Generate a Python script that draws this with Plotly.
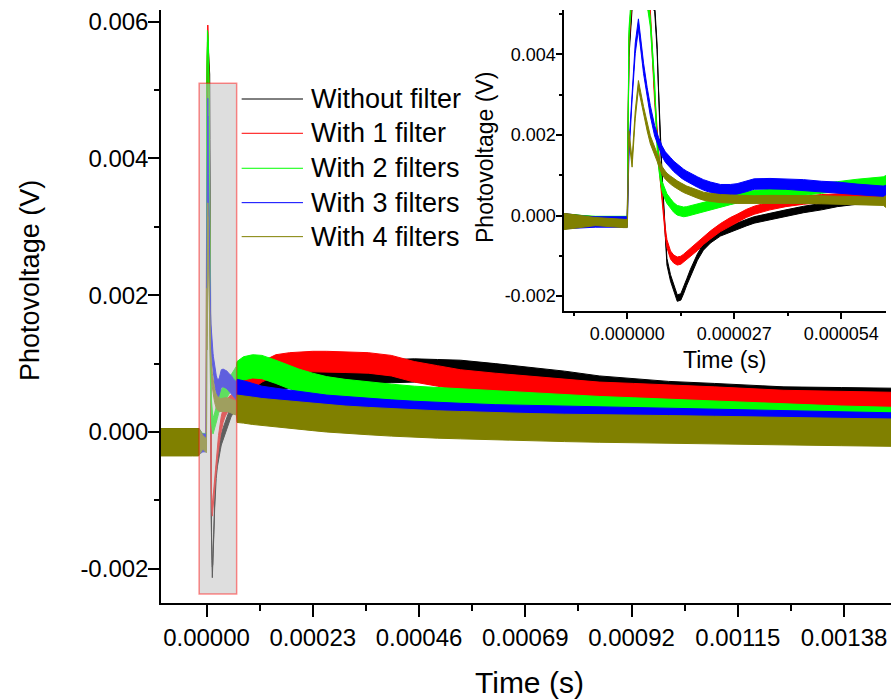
import numpy as np
import plotly.graph_objects as go

# ---------------------------------------------------------------------------
# Transient photovoltage traces (time in microseconds, voltage in millivolts)
# ---------------------------------------------------------------------------
time_us = [
    -101, -60, -30, -17, -16, -8, -1,
    0, 0.4, 1.2, 2.0, 2.8, 4.1, 5.0, 5.8, 6.9, 7.5,
    7.9, 8.3, 8.75, 9.6, 10.0,
    10.9, 11.7, 12.6, 13.5, 14.2,
    15.0, 15.9, 17.7, 19.2, 21,
    23.5, 26, 27.7, 30, 32,
    36, 40, 44.5, 49, 53,
    58, 64.6, 66,
    80, 100, 120, 150, 180,
    200, 230, 260, 300, 350,
    400, 450, 500, 550, 625,
    700, 775, 850, 925, 1000,
    1100, 1250, 1375, 1490,
]

without_filter_mv = [
    -0.12, -0.12, -0.12, -0.12, -0.12, -0.12, -0.12,
    -0.12, 4.0, 5.2, 5.5, 5.6, 5.5, 5.4, 5.3, 5.15, 4.2,
    3.0, 2.0, 1.0, -0.5, -1.15,
    -1.55, -1.8, -2.05, -2.02, -1.86,
    -1.65, -1.42, -1.03, -0.78, -0.6,
    -0.43, -0.33, -0.27, -0.18, -0.11,
    -0.02, 0.06, 0.15, 0.22, 0.30,
    0.36, 0.40, 0.42,
    0.55, 0.66, 0.73, 0.78, 0.81,
    0.83, 0.85, 0.86, 0.87, 0.88,
    0.89, 0.90, 0.89, 0.88, 0.83,
    0.78, 0.72, 0.65, 0.61, 0.57,
    0.54, 0.49, 0.48, 0.47,
]

one_filter_mv = [
    -0.13, -0.13, -0.13, -0.13, -0.13, -0.13, -0.13,
    -0.13, 4.3, 5.5, 5.8, 5.85, 5.6, 5.3, 5.0, 2.9, 2.1,
    1.4, 0.9, 0.4, -0.42, -0.7,
    -0.98, -1.08, -1.13, -1.11, -1.06,
    -0.99, -0.92, -0.77, -0.62, -0.48,
    -0.30, -0.15, -0.07, 0.05, 0.13,
    0.24, 0.32, 0.38, 0.42, 0.44,
    0.46, 0.47, 0.50,
    0.65, 0.78, 0.88, 0.98, 1.01,
    1.02, 1.03, 1.03, 1.02, 1.01,
    0.97, 0.88, 0.82, 0.76, 0.71,
    0.67, 0.62, 0.58, 0.56, 0.54,
    0.51, 0.46, 0.44, 0.43,
]

two_filters_mv = [
    -0.14, -0.14, -0.14, -0.14, -0.14, -0.14, -0.14,
    -0.14, 4.5, 5.6, 5.75, 5.72, 5.6, 5.35, 4.8, 3.2, 1.8,
    1.3, 1.0, 0.73, 0.5, 0.42,
    0.30, 0.20, 0.13, 0.10, 0.09,
    0.10, 0.12, 0.16, 0.20, 0.25,
    0.32, 0.39, 0.43, 0.47, 0.50,
    0.53, 0.57, 0.62, 0.67, 0.72,
    0.78, 0.84, 0.86,
    0.93, 0.96, 0.95, 0.88, 0.80,
    0.75, 0.69, 0.64, 0.60, 0.56,
    0.53, 0.50, 0.48, 0.46, 0.43,
    0.40, 0.37, 0.35, 0.33, 0.31,
    0.28, 0.24, 0.21, 0.19,
]

three_filters_mv = [
    -0.16, -0.16, -0.16, -0.16, -0.16, -0.16, -0.16,
    -0.16, 1.6, 3.0, 4.15, 4.75, 3.65, 3.05, 2.6, 2.1, 1.9,
    1.8, 1.72, 1.6, 1.45, 1.4,
    1.31, 1.22, 1.14, 1.07, 1.02,
    0.97, 0.92, 0.83, 0.76, 0.70,
    0.64, 0.64, 0.66, 0.72, 0.78,
    0.79, 0.78, 0.76, 0.72, 0.70,
    0.65, 0.60, 0.60,
    0.58, 0.54, 0.50, 0.47, 0.44,
    0.42, 0.39, 0.37, 0.35, 0.32,
    0.30, 0.28, 0.26, 0.25, 0.23,
    0.22, 0.21, 0.20, 0.19, 0.18,
    0.16, 0.14, 0.12, 0.11,
]

four_filters_mv = [
    -0.15, -0.15, -0.15, -0.15, -0.15, -0.15, -0.20,
    -0.20, 2.0, 1.3, 2.5, 3.25, 2.6, 2.2, 1.88, 1.6, 1.45,
    1.33, 1.22, 1.12, 1.0, 0.95,
    0.88, 0.82, 0.76, 0.71, 0.67,
    0.63, 0.60, 0.53, 0.48, 0.45,
    0.42, 0.41, 0.40, 0.39, 0.39,
    0.40, 0.40, 0.40, 0.39, 0.38,
    0.36, 0.35, 0.34,
    0.33, 0.31, 0.29, 0.27, 0.25,
    0.24, 0.22, 0.20, 0.18, 0.16,
    0.14, 0.12, 0.11, 0.10, 0.08,
    0.07, 0.06, 0.05, 0.04, 0.04,
    0.03, 0.01, 0.00, -0.01,
]

series_names = ["Without filter", "With 1 filter", "With 2 filters",
                "With 3 filters", "With 4 filters"]
series_values = [without_filter_mv, one_filter_mv, two_filters_mv,
                 three_filters_mv, four_filters_mv]
series_colors = ["#000000", "#FF0000", "#00FF00", "#0000FF", "#808000"]

# Half-width of the noise band (mV): inside the close-up window / full record
noise_close_mv = [0.08, 0.10, 0.12, 0.13, 0.10]
noise_full_mv = [0.17, 0.15, 0.17, 0.17, 0.20]

# Axis ranges
main_x_range = [-9.85e-5, 1.4817e-3]
main_y_range = [-0.0025, 0.00617]
inset_x_range = [-15.97e-6, 65.28e-6]
inset_y_range = [-0.00237, 0.00510]

# Tick values and labels
main_x_ticks = [0, 0.00023, 0.00046, 0.00069, 0.00092, 0.00115, 0.00138]
main_x_labels = ["0.00000", "0.00023", "0.00046", "0.00069", "0.00092",
                 "0.00115", "0.00138"]
main_x_minor = [0.000115, 0.000345, 0.000575, 0.000805, 0.001035,
                0.001265]
main_y_ticks = [-0.002, 0.0, 0.002, 0.004, 0.006]
main_y_labels = ["-0.002", "0.000", "0.002", "0.004", "0.006"]
main_y_minor = [-0.001, 0.001, 0.003, 0.005]
inset_x_ticks = [0, 27e-6, 54e-6]
inset_x_labels = ["0.000000", "0.000027", "0.000054"]
inset_x_minor = [-13.5e-6, 13.5e-6, 40.5e-6]
inset_y_ticks = [-0.002, 0.0, 0.002, 0.004]
inset_y_labels = ["-0.002", "0.000", "0.002", "0.004"]
inset_y_minor = [-0.001, 0.001, 0.003, 0.005]

FONT = "Arial, Liberation Sans, sans-serif"

t = np.array(time_us) * 1e-6
in_window = (t >= inset_x_range[0]) & (t <= inset_x_range[1])

fig = go.Figure()

# Each trace is drawn as its noise envelope: a filled band around the signal
for axes in (("x", "y"), ("x2", "y2")):
    for vals, color, nc, nf in zip(series_values, series_colors,
                                   noise_close_mv, noise_full_mv):
        mid = np.array(vals) * 1e-3
        half = np.where(in_window, nc, nf) * 1e-3
        upper = mid + half
        lower = mid - half
        fig.add_trace(go.Scatter(
            x=np.concatenate([t, t[::-1]]),
            y=np.concatenate([upper, lower[::-1]]),
            mode="lines", fill="toself", fillcolor=color,
            line=dict(color=color, width=1),
            xaxis=axes[0], yaxis=axes[1],
            showlegend=False, hoverinfo="skip",
        ))


def axis_style(tickvals, ticktext, minorvals, size, ticklen, standoff=0):
    return dict(
        tickmode="array", tickvals=tickvals, ticktext=ticktext,
        ticks="outside", ticklen=ticklen, tickwidth=1.5, tickcolor="black",
        ticklabelstandoff=standoff,
        minor=dict(tickmode="array", tickvals=minorvals, ticks="outside",
                   ticklen=ticklen // 2, tickwidth=1.5, tickcolor="black"),
        showline=True, linecolor="black", linewidth=1.5, mirror=False,
        showgrid=False, zeroline=False,
        tickfont=dict(family=FONT, size=size, color="black"),
    )


xa = axis_style(main_x_ticks, main_x_labels, main_x_minor, 24, 12)
xa.update(range=main_x_range, domain=[0, 1], anchor="y")
ya = axis_style(main_y_ticks, main_y_labels, main_y_minor, 24, 11, -5)
ya.update(range=main_y_range, domain=[0, 1], anchor="x")

xa2 = axis_style(inset_x_ticks, inset_x_labels, inset_x_minor, 18, 6)
xa2.update(range=inset_x_range, domain=[0.5521, 0.9932], anchor="y2")
ya2 = axis_style(inset_y_ticks, inset_y_labels, inset_y_minor, 18, 6, -3)
ya2.update(range=inset_y_range, domain=[0.4924, 1.0], anchor="x2")

# Region of the main plot shown enlarged in the inset
shapes = [dict(
    type="rect", xref="x", yref="y", layer="above",
    x0=inset_x_range[0], x1=inset_x_range[1],
    y0=inset_y_range[0], y1=inset_y_range[1],
    fillcolor="rgba(190,190,190,0.5)",
    line=dict(color="rgba(255,0,0,0.45)", width=1.5),
)]

annotations = []

# Axis titles
titles = [
    ("Time (s)", 0.5048, -0.1349, 0, 30),
    ("Photovoltage (V)", -0.1795, 0.5447, -90, 27),
    ("Time (s)", 0.7726, 0.4098, 0, 23),
    ("Photovoltage (V)", 0.4438, 0.7521, -90, 23),
]
for text, xp, yp, angle, size in titles:
    annotations.append(dict(xref="paper", yref="paper", x=xp, y=yp,
                            text=text, showarrow=False, textangle=angle,
                            xanchor="center", yanchor="middle",
                            font=dict(family=FONT, size=size, color="black")))

# Legend: short line samples next to the series names
legend_rows = [0.8499, 0.7921, 0.7331, 0.6751, 0.6178]
for name, color, yrow in zip(series_names, series_colors, legend_rows):
    shapes.append(dict(type="line", xref="paper", yref="paper",
                       x0=0.1105, x1=0.1945, y0=yrow, y1=yrow,
                       line=dict(color=color, width=1)))
    annotations.append(dict(xref="paper", yref="paper", x=0.2023, y=yrow,
                            text=name, showarrow=False, xanchor="left",
                            yanchor="middle",
                            font=dict(family=FONT, size=27, color="black")))

fig.update_layout(
    width=891, height=700,
    margin=dict(l=161, r=0, t=10, b=97),
    paper_bgcolor="white", plot_bgcolor="white",
    xaxis=xa, yaxis=ya, xaxis2=xa2, yaxis2=ya2,
    shapes=shapes, annotations=annotations,
    showlegend=False,
)

fig.write_html("out.html")
